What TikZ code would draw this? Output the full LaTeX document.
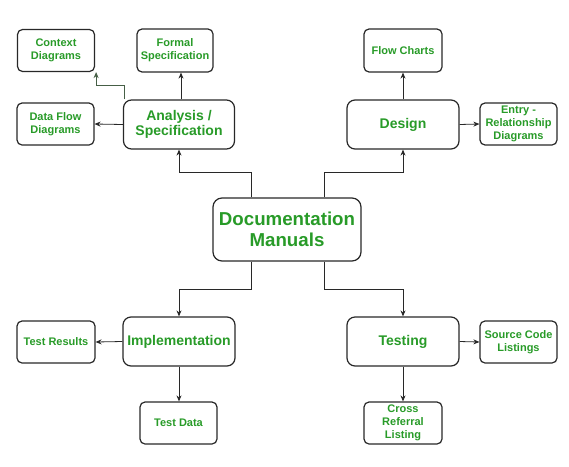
\documentclass[tikz,border=0pt]{standalone}
\usepackage{fontspec}
\setmainfont{Liberation Sans}
\usetikzlibrary{arrows.meta}
\definecolor{txtgreen}{RGB}{40,155,40}
\definecolor{edge}{RGB}{40,40,40}
\definecolor{softedge}{RGB}{70,95,70}
\begin{document}
\begin{tikzpicture}[x=1pt,y=-1pt,
  box/.style={draw=edge,line width=1.2pt,rounded corners=5pt,align=center,
    text=txtgreen,font=\bfseries\fontsize{11}{13}\selectfont,inner sep=1pt},
  mainbox/.style={box,rounded corners=8pt,font=\bfseries\fontsize{14}{15.5}\selectfont,
    minimum width=112pt,minimum height=49pt},
  smallbox/.style={box,minimum width=77pt,minimum height=42pt},
  arr/.style={draw=edge,line width=0.8pt,-{Stealth[length=6pt,width=5pt]}}]
\useasboundingbox (0,0) rectangle (569,466);
\fill[white] (0,0) rectangle (569,466);
% nodes
\node[smallbox] (ctx) at (56,50.5) {Context\\Diagrams};
\node[smallbox,minimum width=76pt,minimum height=43pt] (formal) at (175,50.5) {Formal\\Specification};
\node[smallbox] (dfd) at (55.5,124) {Data Flow\\Diagrams};
\node[mainbox,minimum width=111pt] (ana) at (179,124.5) {Analysis /\\Specification};
\node[smallbox,minimum width=78pt,minimum height=43pt] (flow) at (403,50.5) {Flow Charts};
\node[mainbox] (design) at (403,124.5) {Design};
\node[smallbox] (er) at (518.5,124) {Entry -\\Relationship\\Diagrams};
\node[box,rounded corners=9pt,minimum width=148pt,minimum height=63pt,
  font=\bfseries\fontsize{18.7}{21}\selectfont] (doc) at (287,229.5) {Documentation\\Manuals};
\node[mainbox] (impl) at (179,341.5) {Implementation};
\node[smallbox,minimum width=78pt] (tres) at (56,342) {Test Results};
\node[smallbox] (tdata) at (178.5,423) {Test Data};
\node[mainbox] (testing) at (403,341.5) {Testing};
\node[smallbox] (src) at (518.5,342) {Source Code\\Listings};
\node[smallbox,minimum width=78pt] (cross) at (403,423) {Cross\\Referral\\Listing};
% connectors from documentation manuals
\draw[arr] ([xshift=-36pt]doc.north) -- ++(0,-25) -| (ana.south);
\draw[arr] ([xshift=37pt]doc.north) -- ++(0,-25) -| (design.south);
\draw[arr] ([xshift=-36pt]doc.south) -- ++(0,28) -| (impl.north);
\draw[arr] ([xshift=37pt]doc.south) -- ++(0,28) -| (testing.north);
% analysis
\draw[arr] ([xshift=2pt]ana.north) -- ([xshift=2pt]ana.north |- formal.south);
\coordinate (ctxend) at ([xshift=1pt]ctx.south east);
\draw[arr,draw=softedge,line width=0.7pt] ([xshift=1pt]ana.north west) -- ++(0,-14) -| (ctxend);
\draw[arr] (ana.west) -- (dfd.east);
% design
\draw[arr] (design.north) -- (flow.south);
\draw[arr] (design.east) -- (er.west);
% implementation
\draw[arr] (impl.west) -- (tres.east);
\draw[arr] (impl.south) -- (impl.south |- tdata.north);
% testing
\draw[arr] (testing.east) -- (src.west);
\draw[arr] (testing.south) -- (cross.north);
\end{tikzpicture}
\end{document}
